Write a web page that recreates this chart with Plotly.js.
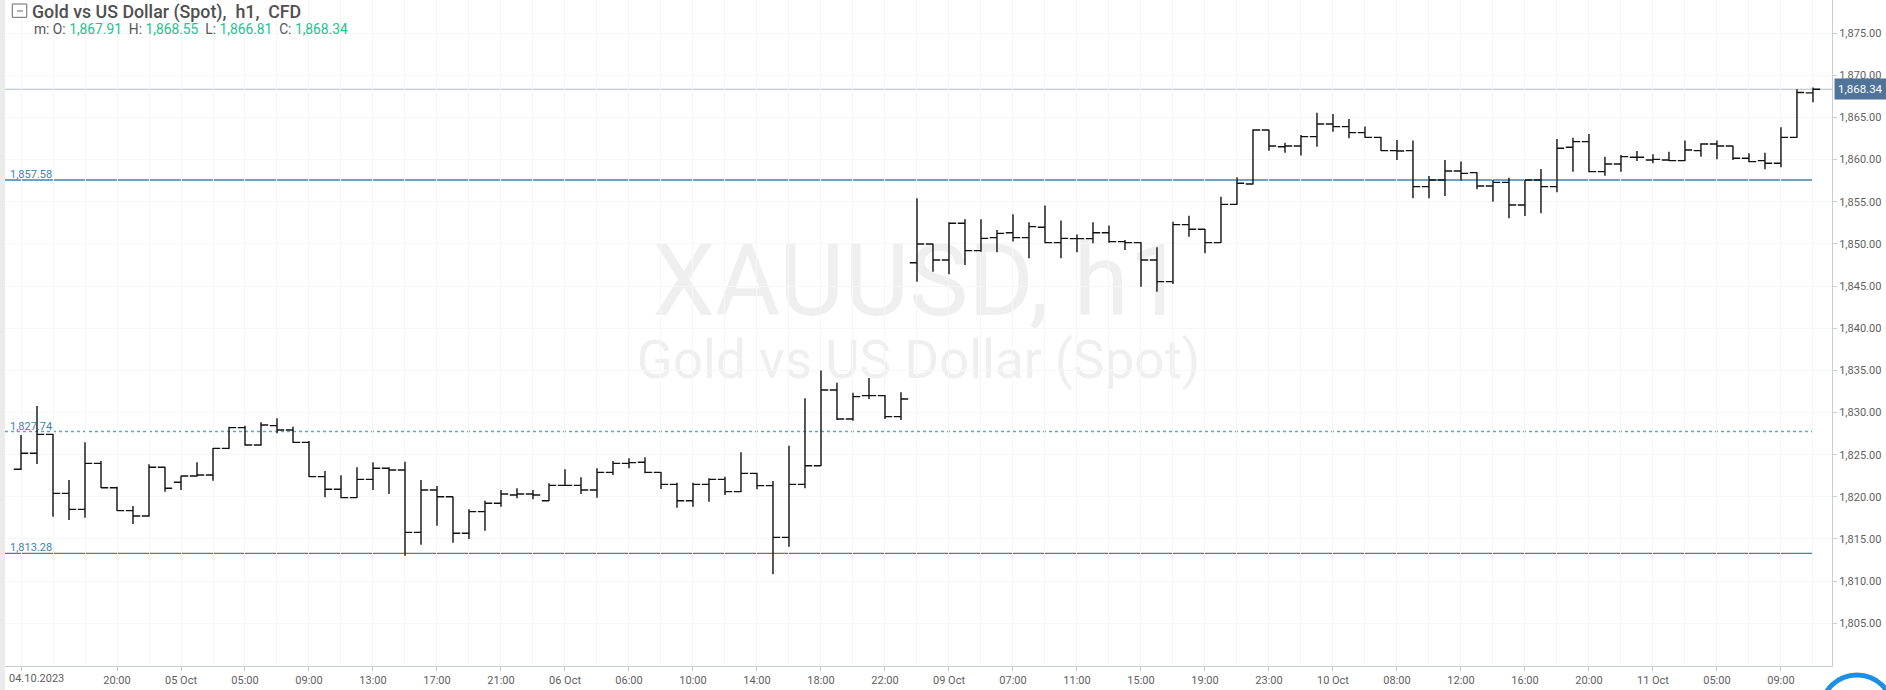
<!DOCTYPE html>
<html><head><meta charset="utf-8">
<script src="https://cdn.plot.ly/plotly-3.0.1.min.js"></script>
<style>html,body{margin:0;padding:0;background:#fff;overflow:hidden}#chart{width:1886px;height:690px}</style>
</head><body><div id="chart"></div>
<script>
// ---- data ----
const times = [
"2023-10-04 14:00","2023-10-04 15:00","2023-10-04 16:00","2023-10-04 17:00","2023-10-04 18:00","2023-10-04 19:00","2023-10-04 20:00","2023-10-04 21:00","2023-10-04 22:00","2023-10-04 23:00",
"2023-10-05 01:00","2023-10-05 02:00","2023-10-05 03:00","2023-10-05 04:00","2023-10-05 05:00","2023-10-05 06:00","2023-10-05 07:00","2023-10-05 08:00","2023-10-05 09:00","2023-10-05 10:00","2023-10-05 11:00","2023-10-05 12:00","2023-10-05 13:00","2023-10-05 14:00","2023-10-05 15:00","2023-10-05 16:00","2023-10-05 17:00","2023-10-05 18:00","2023-10-05 19:00","2023-10-05 20:00","2023-10-05 21:00","2023-10-05 22:00","2023-10-05 23:00",
"2023-10-06 01:00","2023-10-06 02:00","2023-10-06 03:00","2023-10-06 04:00","2023-10-06 05:00","2023-10-06 06:00","2023-10-06 07:00","2023-10-06 08:00","2023-10-06 09:00","2023-10-06 10:00","2023-10-06 11:00","2023-10-06 12:00","2023-10-06 13:00","2023-10-06 14:00","2023-10-06 15:00","2023-10-06 16:00","2023-10-06 17:00","2023-10-06 18:00","2023-10-06 19:00","2023-10-06 20:00","2023-10-06 21:00","2023-10-06 22:00","2023-10-06 23:00",
"2023-10-09 01:00","2023-10-09 02:00","2023-10-09 03:00","2023-10-09 04:00","2023-10-09 05:00","2023-10-09 06:00","2023-10-09 07:00","2023-10-09 08:00","2023-10-09 09:00","2023-10-09 10:00","2023-10-09 11:00","2023-10-09 12:00","2023-10-09 13:00","2023-10-09 14:00","2023-10-09 15:00","2023-10-09 16:00","2023-10-09 17:00","2023-10-09 18:00","2023-10-09 19:00","2023-10-09 20:00","2023-10-09 21:00","2023-10-09 22:00","2023-10-09 23:00",
"2023-10-10 01:00","2023-10-10 02:00","2023-10-10 03:00","2023-10-10 04:00","2023-10-10 05:00","2023-10-10 06:00","2023-10-10 07:00","2023-10-10 08:00","2023-10-10 09:00","2023-10-10 10:00","2023-10-10 11:00","2023-10-10 12:00","2023-10-10 13:00","2023-10-10 14:00","2023-10-10 15:00","2023-10-10 16:00","2023-10-10 17:00","2023-10-10 18:00","2023-10-10 19:00","2023-10-10 20:00","2023-10-10 21:00","2023-10-10 22:00","2023-10-10 23:00",
"2023-10-11 01:00","2023-10-11 02:00","2023-10-11 03:00","2023-10-11 04:00","2023-10-11 05:00","2023-10-11 06:00","2023-10-11 07:00","2023-10-11 08:00","2023-10-11 09:00","2023-10-11 10:00","2023-10-11 11:00"
];
const open = [
1823.26,1825.16,1827.41,1820.41,1818.51,1823.97,1821.08,1818.36,1817.72,1823.50,
1821.72,1822.47,1822.59,1825.75,1828.20,1826.14,1828.44,1827.92,1826.46,1822.39,1820.89,1819.90,1822.07,1823.38,1823.18,1815.78,1820.81,1820.01,1815.67,1818.24,1819.23,1820.21,1820.33,
1819.54,1821.36,1821.36,1820.81,1822.90,1823.97,1824.09,1822.90,1821.48,1819.54,1821.48,1822.07,1820.61,1822.78,1821.32,1815.19,1821.48,1823.69,1832.67,1829.23,1832.00,1832.00,1829.51,
1847.77,1849.99,1848.09,1852.44,1849.20,1850.74,1851.33,1850.74,1851.97,1850.15,1850.62,1850.62,1851.33,1850.27,1850.15,1848.09,1845.52,1852.28,1851.73,1850.15,1854.69,1857.11,1863.51,
1861.53,1861.61,1862.72,1864.22,1863.91,1863.20,1862.64,1861.06,1861.06,1856.79,1857.58,1858.65,1858.45,1856.87,1857.30,1854.61,1857.58,1856.79,1861.46,1862.13,1858.57,1859.48,1860.27,
1859.95,1859.95,1859.88,1861.06,1861.85,1861.61,1860.15,1859.88,1859.56,1862.64,1867.91
];
const high = [
1827.33,1830.77,1827.45,1821.99,1826.46,1824.25,1821.20,1818.91,1823.85,1823.55,
1822.51,1824.09,1825.78,1828.32,1828.44,1828.83,1829.31,1828.32,1826.62,1823.06,1822.55,1823.50,1824.09,1823.50,1824.17,1821.99,1821.28,1820.05,1818.51,1819.54,1820.81,1821.01,1820.81,
1821.60,1823.26,1822.31,1823.38,1824.25,1824.56,1824.68,1822.95,1821.68,1821.68,1822.19,1822.39,1825.27,1822.85,1821.87,1826.07,1831.68,1834.98,1833.54,1832.35,1834.10,1832.08,1832.39,
1855.41,1850.03,1852.56,1852.91,1852.91,1851.65,1853.51,1852.56,1854.54,1852.76,1851.12,1852.56,1852.17,1850.46,1850.20,1849.59,1852.64,1853.35,1851.78,1855.60,1857.90,1863.59,1863.55,
1862.01,1862.92,1865.57,1865.41,1864.82,1863.91,1862.70,1862.33,1862.25,1858.06,1859.95,1859.76,1858.50,1857.58,1857.86,1857.62,1858.89,1862.44,1862.60,1863.04,1860.35,1860.55,1861.02,
1860.63,1860.94,1862.25,1861.93,1862.25,1861.65,1860.74,1860.82,1863.83,1868.34,1868.55
];
const low = [
1823.18,1823.89,1817.64,1817.25,1817.53,1821.05,1818.32,1816.77,1817.64,1820.61,
1820.81,1822.39,1821.91,1825.67,1826.07,1826.07,1827.53,1826.42,1822.35,1819.94,1819.82,1819.85,1820.81,1820.33,1813.02,1814.32,1816.58,1814.56,1814.99,1815.98,1818.83,1819.82,1819.70,
1819.50,1821.28,1820.33,1819.90,1822.59,1823.38,1822.78,1820.93,1818.71,1818.83,1819.42,1820.21,1820.55,1820.89,1810.80,1814.08,1821.01,1823.65,1829.11,1829.03,1831.60,1829.23,1829.11,
1845.52,1846.71,1846.39,1847.50,1849.08,1849.00,1850.27,1848.29,1850.07,1848.29,1849.00,1850.07,1850.15,1849.28,1844.93,1844.33,1845.24,1850.86,1848.88,1850.10,1854.65,1857.05,1861.06,
1860.82,1860.47,1861.53,1863.31,1862.52,1862.60,1861.02,1859.95,1855.41,1855.41,1855.68,1857.50,1856.47,1855.01,1853.03,1853.31,1853.63,1856.12,1858.57,1858.49,1858.09,1858.57,1859.84,
1859.56,1859.84,1859.83,1860.35,1860.03,1859.95,1859.68,1858.85,1859.09,1862.60,1866.81
];
const close = [
1825.16,1827.41,1820.41,1818.51,1823.97,1821.08,1818.36,1817.72,1823.50,1821.01,
1822.47,1822.59,1825.75,1828.20,1826.14,1828.52,1827.92,1826.46,1822.39,1820.89,1819.90,1822.07,1823.38,1823.18,1815.78,1820.81,1820.01,1815.67,1818.24,1819.23,1820.33,1820.33,1820.21,
1821.36,1821.36,1820.81,1822.90,1823.97,1824.05,1822.90,1821.48,1819.54,1821.48,1822.07,1820.61,1822.78,1821.32,1815.19,1821.48,1823.69,1832.67,1829.23,1831.88,1832.00,1829.51,1831.60,
1849.99,1848.09,1852.44,1849.20,1850.66,1851.25,1850.74,1852.05,1850.15,1850.66,1850.62,1851.33,1850.27,1850.15,1848.09,1845.52,1852.28,1851.73,1850.15,1854.69,1857.19,1863.51,1861.61,
1861.61,1862.72,1864.22,1863.91,1863.20,1862.64,1861.06,1861.02,1856.79,1857.58,1858.65,1858.37,1856.87,1857.30,1854.61,1857.58,1856.79,1861.34,1862.13,1858.57,1859.48,1860.35,1860.27,
1860.03,1859.88,1861.14,1861.85,1861.61,1860.15,1859.76,1859.56,1862.64,1867.95,1868.34
];
const tickTimes = [
"2023-10-04 14:00","2023-10-04 20:00","2023-10-05 01:00","2023-10-05 05:00","2023-10-05 09:00","2023-10-05 13:00","2023-10-05 17:00","2023-10-05 21:00",
"2023-10-06 02:00","2023-10-06 06:00","2023-10-06 10:00","2023-10-06 14:00","2023-10-06 18:00","2023-10-06 22:00",
"2023-10-09 03:00","2023-10-09 07:00","2023-10-09 11:00","2023-10-09 15:00","2023-10-09 19:00","2023-10-09 23:00",
"2023-10-10 04:00","2023-10-10 08:00","2023-10-10 12:00","2023-10-10 16:00","2023-10-10 20:00",
"2023-10-11 01:00","2023-10-11 05:00","2023-10-11 09:00"
];
const tickLabels = [
"04.10.2023","20:00","05 Oct","05:00","09:00","13:00","17:00","21:00",
"06 Oct","06:00","10:00","14:00","18:00","22:00",
"09 Oct","07:00","11:00","15:00","19:00","23:00",
"10 Oct","08:00","12:00","16:00","20:00",
"11 Oct","05:00","09:00"
];
const priceTicks = [1805,1810,1815,1820,1825,1830,1835,1840,1845,1850,1855,1860,1865,1870,1875];
const levels = [1857.58, 1827.74, 1813.28];
const levelDash = ["solid", "dot", "solid"];
const symbolText = "XAUUSD, h1";
const nameText = "Gold vs US Dollar (Spot)";
const headerText = "Gold vs US Dollar (Spot),\u00A0 h1,\u00A0 CFD";

// ---- helpers ----
const fmt = v => v.toLocaleString('en-US', {minimumFractionDigits: 2, maximumFractionDigits: 2});
const idx = times.map((t, i) => i);
const tickvals = tickTimes.map(t => times.indexOf(t));
const ticktext = tickLabels.map((t, i) => i === 0 ? '' : t); // first label drawn as annotation (shifted to fit)
const n = times.length - 1;
const green = '#22c28f';
const ohlcLine = `m: O: <span style="color:${green}">${fmt(open[n])}</span>\u00A0 H: <span style="color:${green}">${fmt(high[n])}</span>\u00A0 L: <span style="color:${green}">${fmt(low[n])}</span>\u00A0 C: <span style="color:${green}">${fmt(close[n])}</span>`;

const trace = {
  type: 'ohlc', x: idx, open: open, high: high, low: low, close: close,
  text: times, hoverinfo: 'none', tickwidth: 0.45,
  increasing: {line: {color: '#111', width: 1.4}},
  decreasing: {line: {color: '#111', width: 1.4}}
};

const shapes = [
  {type:'rect', xref:'paper', yref:'paper', x0:-0.0028, x1:0, y0:-0.04, y1:1, fillcolor:'#ebebeb', line:{width:0}, layer:'above'},
  {type:'rect', xref:'paper', yref:'paper', x0:0, x1:1, y0:0.52, y1:0.66, line:{width:0}, fillcolor:'rgba(0,0,0,0)', layer:'below',
   label:{text:symbolText, textposition:'middle center', font:{family:'Roboto, sans-serif', size:100, color:'#efefef'}}},
  {type:'rect', xref:'paper', yref:'paper', x0:0, x1:1, y0:0.43, y1:0.50, line:{width:0}, fillcolor:'rgba(0,0,0,0)', layer:'below',
   label:{text:nameText, textposition:'middle center', font:{family:'Roboto, sans-serif', size:53, color:'#efefef'}}},
  {type:'line', xref:'paper', yref:'y', x0:0, x1:1, y0:close[n], y1:close[n], line:{color:'#b3bfcc', width:1}, layer:'below'},
  {type:'rect', xref:'paper', yref:'paper', x0:0.0040, x1:0.0119, y0:0.974, y1:0.994, line:{color:'#6a6a6a', width:1}, fillcolor:'#fff'},
  {type:'line', xref:'paper', yref:'paper', x0:0.0066, x1:0.0099, y0:0.9835, y1:0.9835, line:{color:'#6a6a6a', width:1}},
  {type:'circle', xref:'paper', yref:'paper', x0:0.9945, x1:1.0328, y0:-0.1141, y1:-0.0135, line:{color:'#1e8fe6', width:5}}
];
levels.forEach((lv, i) => {
  shapes.push({type:'line', xref:'x', yref:'y', x0:-1, x1:n, y0:lv, y1:lv,
    line:{color: levelDash[i] === 'dot' ? '#5ea3cc' : '#3f82b0', width: levelDash[i] === 'dot' ? 1.5 : 1.3, dash: levelDash[i]}, layer:'below'});
});

const annotations = [
  {xref:'paper', yref:'paper', x:0, y:0.982, xanchor:'left', yanchor:'middle', xshift:25, showarrow:false,
   text:headerText, font:{family:'Roboto, sans-serif', size:17.8, color:'#4f4f4f', weight:500}},
  {xref:'paper', yref:'paper', x:0, y:0.957, xanchor:'left', yanchor:'middle', xshift:27, showarrow:false,
   text:ohlcLine, font:{family:'Roboto, sans-serif', size:13.8, color:'#555'}},
  {xref:'paper', yref:'y', x:1, y:close[n], xanchor:'left', yanchor:'middle', xshift:2, showarrow:false,
   text:fmt(close[n]), bgcolor:'#4f7399', borderpad:3, font:{family:'Roboto, sans-serif', size:11.5, color:'#fff'}},
  {xref:'x', yref:'paper', x:tickvals[0], y:0, xanchor:'left', yanchor:'top', xshift:-14, yshift:-4, showarrow:false,
   text:tickLabels[0], font:{family:'Roboto, sans-serif', size:11, color:'#5f5f5f'}}
];
levels.forEach(lv => {
  annotations.push({xref:'paper', yref:'y', x:0, y:lv, xanchor:'left', yanchor:'bottom', xshift:3, yshift:-3, showarrow:false,
    text:fmt(lv), font:{family:'Roboto, sans-serif', size:11, color:'#3f82b0'}});
});

const layout = {
  width:1886, height:690,
  margin:{l:5, r:54, t:0, b:24, pad:0},
  paper_bgcolor:'#fff', plot_bgcolor:'#fff',
  font:{family:'Roboto, sans-serif', size:11, color:'#5f5f5f'},
  showlegend:false, dragmode:false,
  xaxis:{type:'linear', range:[-1, 113.19], tickmode:'array', tickvals:tickvals, ticktext:ticktext,
    ticks:'outside', ticklen:4, tickcolor:'#c8cdd2', showline:true, linecolor:'#c8cdd2', linewidth:1,
    showgrid:true, gridcolor:'#f5f6f7', zeroline:false, rangeslider:{visible:false}, fixedrange:true,
    minor:{tickmode:'linear', tick0:0, dtick:2, showgrid:true, gridcolor:'#f5f6f7', ticks:''},
    tickfont:{family:'Roboto, sans-serif', size:11, color:'#5f5f5f'}},
  yaxis:{side:'right', range:[1799.93, 1878.93], tickmode:'array', tickvals:priceTicks, ticktext:priceTicks.map(fmt),
    ticks:'outside', ticklen:4, tickcolor:'#c8cdd2', showline:true, linecolor:'#c8cdd2', linewidth:1,
    showgrid:true, gridcolor:'#f5f6f7', zeroline:false, fixedrange:true,
    tickfont:{family:'Roboto, sans-serif', size:11, color:'#5f5f5f'}},
  shapes:shapes, annotations:annotations
};

Plotly.newPlot('chart', [trace], layout, {displayModeBar:false, staticPlot:true});
</script>
</body></html>
